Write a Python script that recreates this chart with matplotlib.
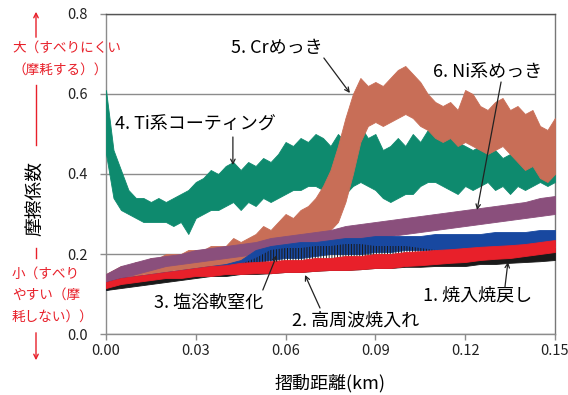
import numpy as np
import matplotlib
matplotlib.use("Agg")
import matplotlib.pyplot as plt
from matplotlib.patches import FancyArrowPatch
from matplotlib.lines import Line2D

plt.rcParams['font.family'] = ['Noto Sans CJK JP', 'DejaVu Sans']
plt.rcParams['hatch.linewidth'] = 0.7

# sliding distance grids (km)
x_fine = np.arange(61) * 0.0025     # teal / orange (very noisy)
x_coarse = np.arange(31) * 0.005    # the other four

# 4. Ti coating (teal) - upper / lower envelope of the noisy trace
ti_hi = [0.61, 0.46, 0.41, 0.36, 0.34, 0.34, 0.33, 0.34, 0.33, 0.34,
         0.35, 0.36, 0.38, 0.39, 0.41, 0.40, 0.42, 0.43, 0.41, 0.43,
         0.42, 0.44, 0.43, 0.45, 0.48, 0.47, 0.49, 0.48, 0.50, 0.49,
         0.47, 0.50, 0.48, 0.49, 0.52, 0.49, 0.50, 0.46, 0.47, 0.49,
         0.47, 0.50, 0.48, 0.51, 0.50, 0.49, 0.50, 0.48, 0.47, 0.46,
         0.47, 0.45, 0.46, 0.44, 0.45, 0.44, 0.43, 0.45, 0.44, 0.42, 0.43]
ti_lo = [0.45, 0.34, 0.31, 0.30, 0.29, 0.28, 0.28, 0.28, 0.28, 0.27,
         0.28, 0.25, 0.29, 0.30, 0.31, 0.31, 0.32, 0.33, 0.31, 0.33,
         0.32, 0.34, 0.33, 0.34, 0.35, 0.36, 0.36, 0.37, 0.37, 0.36,
         0.35, 0.34, 0.35, 0.37, 0.38, 0.37, 0.36, 0.34, 0.33, 0.34,
         0.35, 0.35, 0.37, 0.38, 0.38, 0.37, 0.36, 0.35, 0.37, 0.36,
         0.37, 0.38, 0.36, 0.37, 0.35, 0.37, 0.36, 0.37, 0.38, 0.37, 0.38]

# 5. Cr plating (orange)
cr_hi = [0.15, 0.16, 0.17, 0.17, 0.18, 0.18, 0.19, 0.19, 0.20, 0.20,
         0.20, 0.21, 0.21, 0.21, 0.22, 0.22, 0.22, 0.24, 0.23, 0.24,
         0.25, 0.27, 0.26, 0.28, 0.30, 0.29, 0.31, 0.32, 0.34, 0.37,
         0.41, 0.47, 0.54, 0.60, 0.64, 0.62, 0.63, 0.62, 0.64, 0.66,
         0.67, 0.65, 0.63, 0.60, 0.58, 0.57, 0.58, 0.56, 0.61, 0.60,
         0.57, 0.56, 0.58, 0.59, 0.56, 0.57, 0.55, 0.56, 0.52, 0.51, 0.54]
cr_lo = [0.12, 0.13, 0.13, 0.14, 0.14, 0.15, 0.15, 0.15, 0.15, 0.16,
         0.16, 0.16, 0.16, 0.16, 0.16, 0.16, 0.16, 0.16, 0.17, 0.17,
         0.18, 0.18, 0.19, 0.20, 0.20, 0.21, 0.22, 0.22, 0.23, 0.24,
         0.26, 0.28, 0.33, 0.40, 0.48, 0.52, 0.53, 0.52, 0.53, 0.54,
         0.55, 0.54, 0.52, 0.51, 0.49, 0.48, 0.49, 0.47, 0.48, 0.47,
         0.46, 0.45, 0.46, 0.47, 0.45, 0.43, 0.41, 0.42, 0.39, 0.38, 0.40]

# 6. Ni plating (purple)
ni_hi = [0.15, 0.17, 0.18, 0.19, 0.195, 0.20, 0.21, 0.215, 0.22, 0.225,
         0.23, 0.24, 0.245, 0.25, 0.255, 0.26, 0.27, 0.275, 0.28, 0.285,
         0.29, 0.295, 0.30, 0.305, 0.31, 0.315, 0.32, 0.325, 0.33, 0.34, 0.345]
ni_lo = [0.12, 0.14, 0.15, 0.16, 0.17, 0.175, 0.18, 0.185, 0.19, 0.195,
         0.20, 0.205, 0.21, 0.215, 0.22, 0.225, 0.23, 0.235, 0.24, 0.245,
         0.25, 0.255, 0.26, 0.265, 0.27, 0.275, 0.28, 0.285, 0.29, 0.295, 0.30]

# 3. salt bath nitriding (blue)
sb_hi = [0.13, 0.14, 0.145, 0.15, 0.155, 0.16, 0.165, 0.17, 0.175, 0.185,
         0.21, 0.22, 0.225, 0.23, 0.23, 0.235, 0.24, 0.24, 0.245, 0.245,
         0.245, 0.245, 0.25, 0.25, 0.25, 0.25, 0.255, 0.255, 0.255, 0.26, 0.26]
sb_lo = [0.11, 0.12, 0.125, 0.13, 0.135, 0.14, 0.145, 0.15, 0.155, 0.16,
         0.18, 0.185, 0.19, 0.19, 0.195, 0.20, 0.20, 0.20, 0.205, 0.205,
         0.21, 0.21, 0.21, 0.21, 0.215, 0.215, 0.215, 0.22, 0.22, 0.22, 0.22]

# 2. induction hardening (red)
ih_hi = [0.13, 0.14, 0.145, 0.15, 0.155, 0.16, 0.165, 0.17, 0.172, 0.178,
         0.18, 0.182, 0.185, 0.185, 0.19, 0.19, 0.195, 0.195, 0.20, 0.20,
         0.205, 0.207, 0.21, 0.212, 0.215, 0.218, 0.22, 0.222, 0.225, 0.23, 0.235]
ih_lo = [0.115, 0.125, 0.13, 0.135, 0.14, 0.14, 0.145, 0.145, 0.15, 0.15,
         0.152, 0.152, 0.155, 0.155, 0.158, 0.16, 0.16, 0.162, 0.165, 0.165,
         0.17, 0.172, 0.175, 0.178, 0.18, 0.185, 0.188, 0.19, 0.195, 0.2, 0.205]

# 1. quench and temper (black): dense core and spike tops
qt_hi = [0.125, 0.135, 0.14, 0.145, 0.15, 0.155, 0.16, 0.165, 0.17, 0.175,
         0.19, 0.21, 0.215, 0.215, 0.22, 0.22, 0.225, 0.225, 0.22, 0.22,
         0.22, 0.215, 0.21, 0.20, 0.195, 0.20, 0.20, 0.205, 0.205, 0.21, 0.215]
qt_core = [0.125, 0.135, 0.14, 0.145, 0.15, 0.155, 0.16, 0.165, 0.17, 0.175,
           0.175, 0.175, 0.18, 0.18, 0.18, 0.185, 0.185, 0.185, 0.19, 0.19,
           0.19, 0.19, 0.195, 0.195, 0.195, 0.20, 0.20, 0.205, 0.205, 0.21, 0.215]
qt_lo = [0.11, 0.115, 0.12, 0.125, 0.13, 0.135, 0.14, 0.145, 0.145, 0.15,
         0.15, 0.152, 0.155, 0.155, 0.158, 0.16, 0.16, 0.162, 0.165, 0.165,
         0.168, 0.168, 0.17, 0.17, 0.17, 0.175, 0.175, 0.178, 0.18, 0.182, 0.185]

x_ticks = [0.00, 0.03, 0.06, 0.09, 0.12, 0.15]
y_ticks = [0.0, 0.2, 0.4, 0.6, 0.8]

C_TEAL = '#0e8a6e'
C_ORANGE = '#c86e57'
C_PURPLE = '#8a4f7c'
C_BLUE = '#1848a0'
C_BLACK = '#1a1a1a'
C_RED = '#e8202a'
C_NOTE = '#e8202a'
C_GRID = '#8c8c8c'

fig = plt.figure(figsize=(5.68, 3.95), dpi=100)
ax = fig.add_axes([0.1866, 0.1544, 0.7904, 0.8102])

# bands, back to front
ax.fill_between(x_fine, ti_lo, ti_hi, color=C_TEAL, lw=0.6, zorder=3)
ax.fill_between(x_fine, cr_lo, cr_hi, color=C_ORANGE, lw=0.6, zorder=3)
ax.fill_between(x_coarse, ni_lo, ni_hi, color=C_PURPLE, lw=0.6, zorder=3)
ax.fill_between(x_coarse, sb_lo, sb_hi, color=C_BLUE, lw=0.6, zorder=3)
# black spikes above its core
ax.fill_between(x_coarse, qt_core, qt_hi, facecolor='none', edgecolor=C_BLACK,
                hatch='||||||', lw=0, zorder=3)
ax.fill_between(x_coarse, qt_lo, qt_core, color=C_BLACK, lw=0.6, zorder=3)
ax.fill_between(x_coarse, ih_lo, ih_hi, color=C_RED, lw=0.6, zorder=3)

ax.set_xlim(0, 0.15)
ax.set_ylim(0, 0.8)
ax.set_xticks(x_ticks)
ax.set_xticklabels([f"{v:.2f}" for v in x_ticks])
ax.set_yticks(y_ticks)
ax.set_yticklabels([f"{v:.1f}" for v in y_ticks])
ax.tick_params(axis='both', colors=C_GRID, labelcolor='#222222', labelsize=10.5,
               length=4, width=1)
ax.tick_params(axis='y', pad=9)
ax.yaxis.grid(True, color=C_GRID, lw=1)
ax.set_axisbelow(True)
for s in ax.spines.values():
    s.set_color(C_GRID)
    s.set_linewidth(1)
ax.spines['top'].set_color('#555555')
ax.spines['right'].set_color('#777777')

ax.set_xlabel("摺動距離(km)", fontsize=13, labelpad=11)

# series labels with arrows
def note(text, txy, tail, tip):
    ax.text(txy[0], txy[1], text, fontsize=13, ha='center', va='center', zorder=6)
    ax.annotate('', xy=tip, xytext=tail, zorder=6,
                arrowprops=dict(arrowstyle='->', color='#222222', lw=0.9,
                                mutation_scale=8, shrinkA=0, shrinkB=0))

note("5. Crめっき", (0.0571, 0.715), (0.0728, 0.69), (0.0815, 0.6025))
note("6. Ni系めっき", (0.1276, 0.655), (0.132, 0.63), (0.124, 0.31))
note("4. Ti系コーティング", (0.0297, 0.5225), (0.0424, 0.4925), (0.0424, 0.4225))
note("3. 塩浴軟窒化", (0.0344, 0.0775), (0.0524, 0.11), (0.0571, 0.1975))
note("2. 高周波焼入れ", (0.0835, 0.0325), (0.0715, 0.065), (0.0665, 0.1475))
note("1. 焼入焼戻し", (0.1243, 0.0975), (0.1333, 0.1175), (0.1343, 0.18))

# left side: friction scale notes (figure pixels -> fraction)
W, H = 568.0, 395.0
def fp(px, py):
    return (px / W, 1 - py / H)

fig.text(*fp(36, 198), "摩擦係数", rotation=90, fontsize=13.5, ha='center', va='center')

for py, s in [(48, "大（すべりにくい"), (70, "（摩耗する））"),
              (274, "小（すべり"), (295, "やすい（摩"), (317, "耗しない））")]:
    fig.text(*fp(12, py), s, fontsize=9.8, color=C_NOTE, ha='left', va='center')

# red arrows and connector lines
fig.add_artist(FancyArrowPatch(fp(36, 40), fp(36, 9), transform=fig.transFigure,
                               arrowstyle='->', color=C_NOTE, lw=1, mutation_scale=8))
fig.add_artist(FancyArrowPatch(fp(36, 330), fp(36, 363), transform=fig.transFigure,
                               arrowstyle='->', color=C_NOTE, lw=1, mutation_scale=8))
fig.add_artist(Line2D([36 / W, 36 / W], [1 - 85 / H, 1 - 145 / H],
                      transform=fig.transFigure, color=C_NOTE, lw=1))
fig.add_artist(Line2D([36 / W, 36 / W], [1 - 248 / H, 1 - 258 / H],
                      transform=fig.transFigure, color=C_NOTE, lw=1))

fig.savefig("out.png", dpi=100)
